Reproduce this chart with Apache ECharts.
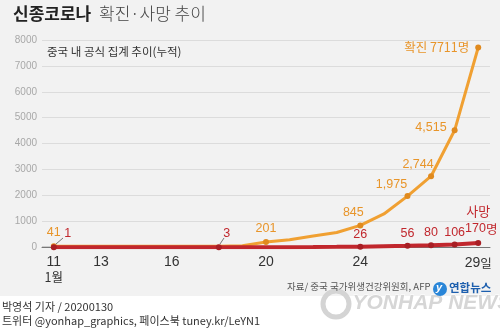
<!DOCTYPE html>
<html><head><meta charset="utf-8">
<script src="https://cdn.jsdelivr.net/npm/echarts@6/dist/echarts.min.js"></script>
<style>html,body{margin:0;padding:0;background:#fff}#c{width:500px;height:335px}</style>
</head><body><div id="c"></div>
<script>
const days = ['11','12','13','14','15','16','17','18','19','20','21','22','23','24','25','26','27','28','29'];
const shownDays = ['11','13','16','20','24','29'];
const confirmed = [41,41,41,41,41,41,41,41,62,201,291,440,571,845,1287,1975,2744,4515,7711];
const deaths = [1,1,1,1,1,2,2,3,3,4,6,9,17,26,41,56,80,106,170];
const confirmedMarked = [0,9,13,15,16,17,18];
const deathsMarked = [0,7,13,15,16,17,18];
const yTicks = [0,1000,2000,3000,4000,5000,6000,7000,8000];

const ORANGE = '#F0A032', ORANGE_T = '#E8952A', RED = '#C1272D';
const numFont = "'Liberation Sans', Arial, sans-serif";
const krFont = "'Noto Sans CJK KR', sans-serif";

function fmt(v){ return v.toLocaleString('en-US'); }

const cLabelCfg = {
  0:{position:'top',distance:4},
  9:{position:'top',distance:4},
  13:{position:'top',distance:3,offset:[-7,0]},
  15:{position:'top',distance:2,offset:[-16,0]},
  16:{position:'top',distance:2,offset:[-13,0]},
  17:{position:'left',distance:5,offset:[0,-3]},
  18:{position:'left',distance:6,formatter:'확진 7711명',fontFamily:krFont,fontSize:12.5}
};
const dLabelCfg = {
  0:{position:'top',distance:4,offset:[14,0]},
  7:{position:'top',distance:4,offset:[8,0]},
  13:{position:'top',distance:3},
  15:{position:'top',distance:3},
  16:{position:'top',distance:3},
  17:{position:'top',distance:3},
  18:{position:'top',distance:3,offset:[3,0],
      formatter:'{a|사망}\n{b|170}{c|명}',
      rich:{a:{fontFamily:krFont,fontSize:13,color:RED,align:'center',lineHeight:19,padding:[0,6,0,0]},
            b:{fontFamily:numFont,fontSize:12.5,color:RED,lineHeight:16},
            c:{fontFamily:krFont,fontSize:12.5,color:RED,lineHeight:16}}}
};

const cData = confirmed.map((v,i)=>{
  const m = confirmedMarked.includes(i);
  const o = {value:v, symbolSize: m ? 6 : 0};
  if (m) o.label = Object.assign({show:true}, cLabelCfg[i]);
  return o;
});
const dData = deaths.map((v,i)=>{
  const m = deathsMarked.includes(i);
  const o = {value:v, symbolSize: m ? 6 : 0};
  if (m) o.label = Object.assign({show:true}, dLabelCfg[i]);
  return o;
});

const chart = echarts.init(document.getElementById('c'), null, {renderer:'canvas'});
chart.setOption({
  backgroundColor:'#f2f2f2',
  animation:false,
  grid:{left:42,right:10,top:40,bottom:87.7},
  xAxis:{
    type:'category', data:days, boundaryGap:true,
    axisLine:{lineStyle:{color:'#777',width:1}},
    axisTick:{alignWithLabel:true,interval:0,length:3,lineStyle:{color:'#999'}},
    axisLabel:{
      interval:(i,v)=>shownDays.includes(v), margin:8,
      color:'#333', fontFamily:"'Liberation Sans Narrow', 'Liberation Sans', sans-serif", fontSize:14,
      formatter:(v)=> v==='11' ? '11\n{m|1월}' : (v==='29' ? '29{m|일}' : v),
      rich:{m:{fontFamily:krFont,fontSize:12.5,color:'#333',lineHeight:15}}
    }
  },
  yAxis:{
    type:'value', min:yTicks[0], max:yTicks[yTicks.length-1], interval:1000,
    axisLine:{show:false}, axisTick:{show:false},
    splitLine:{lineStyle:{color:'#dcdcdc',width:1}},
    axisLabel:{margin:5,color:'#a8a8a8',fontSize:10,formatter:(v)=>String(v),
      fontFamily:"'Liberation Sans Narrow', 'Liberation Sans', sans-serif"}
  },
  series:[
    {name:'확진',type:'line',data:cData,symbol:'circle',z:2,
     lineStyle:{color:ORANGE,width:3},itemStyle:{color:'#E08A1E'},
     label:{color:ORANGE_T,fontFamily:numFont,fontSize:12.5,formatter:(p)=>fmt(p.value)}},
    {name:'사망',type:'line',data:dData,symbol:'circle',z:3,
     lineStyle:{color:RED,width:4},itemStyle:{color:'#A81E24'},
     label:{color:RED,fontFamily:numFont,fontSize:12.5,formatter:(p)=>fmt(p.value)}}
  ],
  graphic:[
    {type:'rect',left:0,top:296,shape:{width:500,height:39},style:{fill:'#ffffff'},z:-1,silent:true},
    {type:'text',left:13,top:5,style:{text:'신종코로나',font:"bold 17px 'Noto Sans CJK KR'",fill:'#222'}},
    {type:'text',left:99,top:5,style:{text:'확진·사망 추이',font:"300 17px 'Noto Sans CJK KR'",fill:'#444'}},
    {type:'text',left:47,top:46,style:{text:'중국 내 공식 집계 추이(누적)',font:"11.5px 'Noto Sans CJK KR'",fill:'#333'}},
    {type:'line',shape:{x1:56,y1:244,x2:63,y2:238},style:{stroke:'#777',lineWidth:1}},
    {type:'line',shape:{x1:220,y1:244,x2:224,y2:238},style:{stroke:'#777',lineWidth:1}},
    {type:'line',shape:{x1:42,y1:247.3,x2:50,y2:247.3},style:{stroke:'#333',lineWidth:1}},
    {type:'text',left:287,top:282,style:{text:'자료/ 중국 국가위생건강위원회, AFP',font:"9.5px 'Noto Sans CJK KR'",fill:'#555'}},
    {type:'circle',shape:{cx:440,cy:289,r:7},style:{fill:'#2a86d8'}},
    {type:'text',left:436,top:282,style:{text:'y',font:"italic bold 11px 'Liberation Sans'",fill:'#fff'}},
    {type:'text',left:449,top:282,style:{text:'연합뉴스',font:"bold 11.5px 'Noto Sans CJK KR'",fill:'#1d5fae'}},
    {type:'circle',shape:{cx:336,cy:304,r:13},style:{fill:'none',stroke:'#d4d4d4',lineWidth:5},z:-1},
    {type:'text',left:352,top:292,style:{text:'YONHAP NEWS',font:"italic 900 21px 'Liberation Sans'",fill:'#d6d6d6',stroke:'#ffffff',lineWidth:1},z:-1},
    {type:'text',left:2,top:301,style:{text:'박영석 기자 / 20200130',font:"11px 'Noto Sans CJK KR'",fill:'#333'}},
    {type:'text',left:2,top:315,style:{text:'트위터 @yonhap_graphics, 페이스북 tuney.kr/LeYN1',font:"11px 'Noto Sans CJK KR'",fill:'#333'}}
  ]
});
</script></body></html>
